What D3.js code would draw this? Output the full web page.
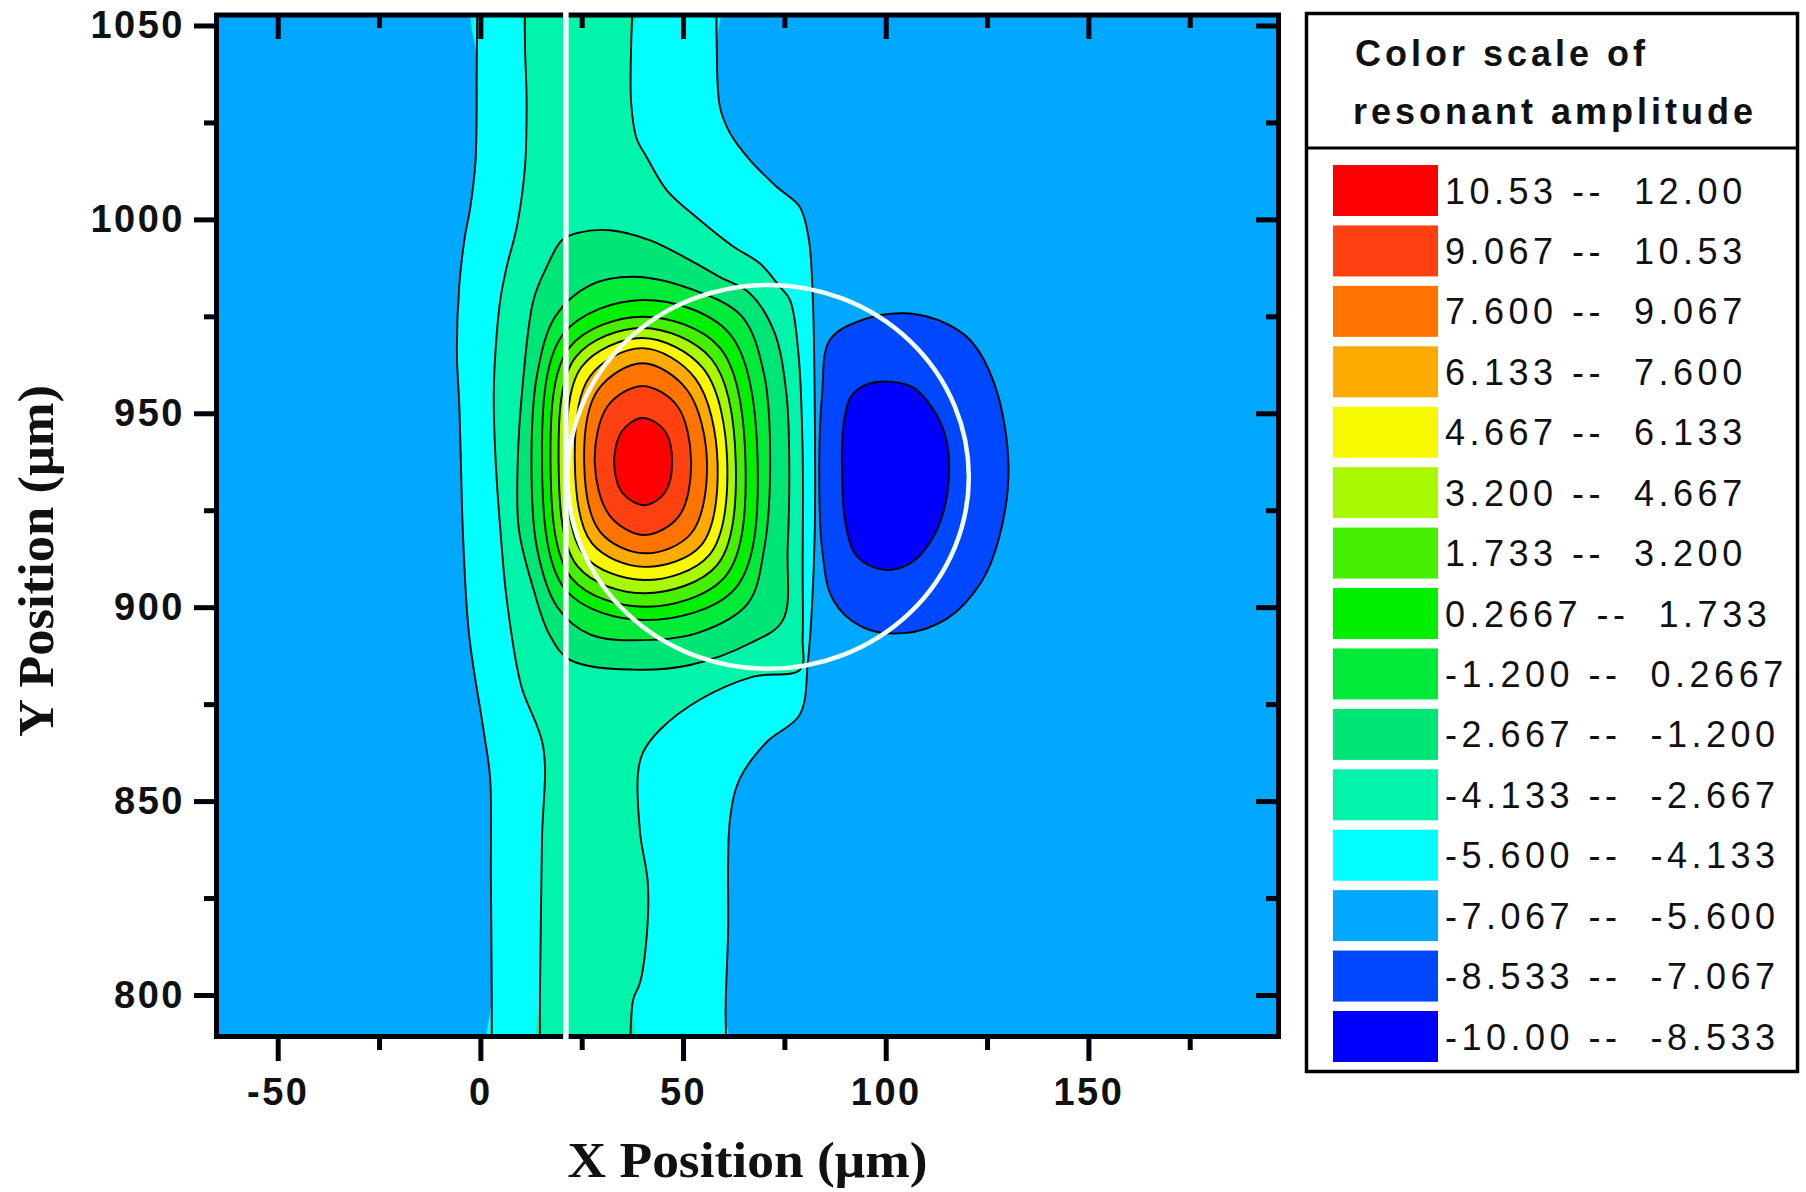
<!DOCTYPE html>
<html>
<head>
<meta charset="utf-8">
<script src="https://cdn.jsdelivr.net/npm/d3@7"></script>
<style>
  html, body { margin: 0; padding: 0; background: #fff; }
  svg { display: block; }
  .contour { fill: none; stroke: #040404; stroke-width: 1.9; }
</style>
</head>
<body>
<svg id="chart" width="1806" height="1192"></svg>
<script>
// contour levels and the colour of each band (low -> high)
const levels = [-10, -8.533, -7.067, -5.6, -4.133, -2.667, -1.2, 0.2667, 1.733, 3.2, 4.667, 6.133, 7.6, 9.067, 10.53, 12];
const levelText = ["-10.00", "-8.533", "-7.067", "-5.600", "-4.133", "-2.667", "-1.200", "0.2667",
                   "1.733", "3.200", "4.667", "6.133", "7.600", "9.067", "10.53", "12.00"];
const bandColors = ["#0000ff", "#0048ff", "#00a8ff", "#00ffff", "#00f5aa", "#00e676", "#00ea3a",
                    "#00f000", "#44f000", "#a8f800", "#f8f800", "#ffaa00", "#ff7400", "#ff4010", "#ff0000"];

const xTicks = [-50, 0, 50, 100, 150];
const xMinor = [-25, 25, 75, 125, 175];
const yTicks = [800, 850, 900, 950, 1000, 1050];
const yMinor = [825, 875, 925, 975, 1025];

// vertical ridge: boundaries of the -5.600 and -4.133 levels, [x um, y um], top to bottom
const cyanLeft = [[-0.8,1058],[-0.9,1040],[-1.2,1015],[-2.5,1003],[-3.9,995],[-5.2,983],[-5.8,966],[-5.2,952],
                  [-4.8,937],[-4.3,919],[-2.8,893],[0.9,867.5],[2.4,856],[2.6,830],[2.8,800],[2.8,782]];
const cyanRight = [[58.3,1058],[58.3,1045],[59.1,1029],[61.6,1022.2],[66.5,1015.3],[73.1,1008.4],[78.8,1003.2],
                   [81,995],[82,980],[82.5,950],[82.5,920],[81.8,900],[80.8,886],[78.8,872.3],[70.7,865.3],
                   [64,855.8],[61.6,845.5],[61.1,815.6],[60.5,795],[61,782]];
const aquaLeft = [[11,1058],[11,1045],[11.4,1030.7],[11,1013.5],[9,998.1],[6.5,987.8],[4.9,979.2],[3.5,962],
                  [3.3,953],[3.8,937],[5,919],[6.5,902],[10,880],[15.5,864],[15.2,840],[14.7,800],[14.7,782]];
const aquaRight = [[37.7,1058],[37.2,1045],[37.2,1030],[38.5,1021],[41,1016.1],[46,1007.5],[54.2,999.8],
                   [62.4,993],[69,988.6],[73.9,982.6],[76.4,979.2],[78.5,965],[79.5,940],[79.5,910],[79.5,892],
                   [78.9,883.9],[67.3,882.1],[54.2,876.2],[44.3,868.4],[40.1,862.5],[38.9,857.4],[39.4,841.9],
                   [41.3,829],[41.1,816.1],[39.4,803.2],[37.7,798.8],[37,782]];

// closed contours of the positive lobe, levels -2.667 ... 10.53
const peakLevels = [5, 6, 7, 8, 9, 10, 11, 12, 13, 14];
const peakRings = [
  [[32,997.2],[41.9,994.6],[51.7,989.5],[59.1,985.1],[66.5,980.9],[72.5,971],[75.5,955],[76.2,937],[75.8,915],
   [74.6,896.6],[66.5,890.7],[51.7,885.1],[37.6,883.9],[22.1,886.4],[17,893],[13,905],[9.5,920],[9.2,937],
   [10.5,958],[13.1,979.2],[16.4,987.8],[20.1,994.6],[24,996.5]],
  [[38,985.2],[52,982],[64.5,975],[70,960],[71.5,937.5],[70,915],[66,901],[54,893.5],[40,891.5],[27,893],
   [19,900],[14,915],[12.6,937.5],[14,960],[18.5,975],[27,983]],
  [[40,979.2],[61.5,970.5],[68.4,937.5],[63,905],[40.5,896.7],[21,904.5],[15.2,937.5],[20.5,970.5]],
  [[40,974.9],[59,967],[65.4,937.5],[60.5,908],[40.5,900.1],[22.5,907.5],[17.3,937.5],[22,967]],
  [[40,972],[57,964],[63,937.5],[58.5,911],[40.5,903.6],[24,910.5],[19.3,937.5],[23.5,964.5]],
  [[40,969.4],[55,961.5],[60.9,937.5],[56.5,913.5],[40.5,907],[25.5,913.5],[21.3,937.5],[25,962]],
  [[40,966.8],[53,959],[58.5,937.5],[54.5,916],[40.5,910.4],[27.5,916.5],[23.3,937.5],[27,959.5]],
  [[40,962.9],[51,956],[55.9,937.5],[52,919],[40.5,913.9],[29.5,919.5],[25.6,937.5],[29,956]],
  [[40,957],[48.5,952],[52,937.5],[49,923.5],[40.5,918.6],[32,923.5],[28.2,937.5],[31.5,952]],
  [[40,948.8],[45.5,945.5],[47.3,937.5],[45.5,929.5],[40.5,926.3],[35,929.5],[33,937.5],[35,945.5]]
];

// closed contours of the negative lobe, levels -7.067 and -8.533
const dipLevels = [1, 0];
const dipRings = [
  [[86.2,968.9],[94,974],[104.4,975.8],[113,974],[120.8,968.9],[127,957],[130.3,936.2],[128,918],[123.4,906.2],
   [115,897],[104.4,893.3],[94,895],[87,901.9],[84.3,915],[83.6,936],[84.3,955]],
  [[91.4,954.3],[95.5,957.5],[101.7,958.1],[107,956.5],[111.3,951.7],[114.5,945],[115.6,937.9],[114.8,927],
   [112.2,919],[107,912],[100.9,909.6],[95.5,911],[92.3,913.9],[90,922],[89.2,936.2],[89.6,947]]
];

// white overlays: slit edge and circular resonator outline (um)
const slitX = 21.1;
const ringCx = 71, ringCy = 933.6, ringR = 49.5;

const svg = d3.select("#chart");
const plotL = 216.5, plotR = 1278.5, plotT = 15, plotB = 1036.5;
const x = d3.scaleLinear().domain([-65.1, 196.9]).range([plotL, plotR]);
const y = d3.scaleLinear().domain([789.3, 1052.7]).range([plotB, plotT]);

svg.append("defs").append("clipPath").attr("id", "plotClip")
  .append("rect").attr("x", plotL).attr("y", plotT)
  .attr("width", plotR - plotL).attr("height", plotB - plotT);

const closedLine = d3.line().x(d => x(d[0])).y(d => y(d[1])).curve(d3.curveCatmullRomClosed.alpha(0.5));
const openLine = d3.line().x(d => x(d[0])).y(d => y(d[1])).curve(d3.curveCatmullRom.alpha(0.5));

const plot = svg.append("g").attr("clip-path", "url(#plotClip)");

// background band
plot.append("rect")
  .attr("x", plotL).attr("y", plotT)
  .attr("width", plotR - plotL).attr("height", plotB - plotT)
  .attr("fill", bandColors[2]);

// negative lobe
dipRings.forEach((r, i) => {
  plot.append("path").attr("d", closedLine(r)).attr("fill", bandColors[dipLevels[i]]);
});

// ridge bands
plot.append("path").attr("d", closedLine(cyanLeft.concat(cyanRight.slice().reverse()))).attr("fill", bandColors[3]);
plot.append("path").attr("d", closedLine(aquaLeft.concat(aquaRight.slice().reverse()))).attr("fill", bandColors[4]);

// positive lobe
peakRings.forEach((r, i) => {
  plot.append("path").attr("d", closedLine(r)).attr("fill", bandColors[peakLevels[i]]);
});

// contour lines
[cyanLeft, cyanRight, aquaLeft, aquaRight].forEach(c => {
  plot.append("path").attr("class", "contour").attr("d", openLine(c));
});
dipRings.concat(peakRings).forEach(r => {
  plot.append("path").attr("class", "contour").attr("d", closedLine(r));
});

// axes
const tickFont = g => {
  g.select(".domain").remove();
  g.selectAll(".tick line").attr("stroke", "#00000c").attr("stroke-width", 5);
  g.selectAll(".tick text")
    .attr("fill", "#111")
    .style("font-family", "'Liberation Sans', Arial, sans-serif")
    .style("font-weight", "bold")
    .style("font-size", "38px")
    .style("letter-spacing", "2.5px");
};

svg.append("g").attr("transform", "translate(214,0)")
  .call(d3.axisLeft(y).tickValues(yTicks).tickSize(20).tickPadding(9).tickFormat(d => String(d)))
  .call(tickFont);
svg.append("g").attr("transform", "translate(214,0)")
  .call(d3.axisLeft(y).tickValues(yMinor).tickSize(10).tickFormat(""))
  .call(tickFont);
svg.append("g").attr("transform", "translate(0,1039)")
  .call(d3.axisBottom(x).tickValues(xTicks).tickSize(22).tickPadding(17).tickFormat(d => String(d)))
  .call(tickFont);
svg.append("g").attr("transform", "translate(0,1039)")
  .call(d3.axisBottom(x).tickValues(xMinor).tickSize(11).tickFormat(""))
  .call(tickFont);
// inward mirror ticks on top and right
svg.append("g").attr("transform", "translate(0,17)")
  .call(d3.axisBottom(x).tickValues(xTicks).tickSize(22).tickFormat(""))
  .call(tickFont);
svg.append("g").attr("transform", "translate(0,17)")
  .call(d3.axisBottom(x).tickValues(xMinor).tickSize(11).tickFormat(""))
  .call(tickFont);
svg.append("g").attr("transform", "translate(1276,0)")
  .call(d3.axisLeft(y).tickValues(yTicks).tickSize(20).tickFormat(""))
  .call(tickFont);
svg.append("g").attr("transform", "translate(1276,0)")
  .call(d3.axisLeft(y).tickValues(yMinor).tickSize(10).tickFormat(""))
  .call(tickFont);

// frame
svg.append("rect")
  .attr("x", plotL).attr("y", plotT)
  .attr("width", plotR - plotL).attr("height", plotB - plotT)
  .attr("fill", "none").attr("stroke", "#00000c").attr("stroke-width", 5);

// white overlays
svg.append("line")
  .attr("x1", x(slitX)).attr("x2", x(slitX))
  .attr("y1", plotT - 3).attr("y2", plotB + 3)
  .attr("stroke", "#f4fffc").attr("stroke-width", 5.5);
svg.append("ellipse")
  .attr("cx", x(ringCx)).attr("cy", y(ringCy))
  .attr("rx", x(ringCx + ringR) - x(ringCx))
  .attr("ry", y(ringCy) - y(ringCy + ringR))
  .attr("fill", "none").attr("stroke", "#f2fff6").attr("stroke-width", 4.5);

// axis titles
svg.append("text")
  .attr("x", (plotL + plotR) / 2).attr("y", 1177)
  .attr("text-anchor", "middle")
  .attr("textLength", 360).attr("lengthAdjust", "spacingAndGlyphs")
  .style("font-family", "'Liberation Serif', 'Times New Roman', serif")
  .style("font-weight", "bold").style("font-size", "50px").attr("fill", "#111")
  .text("X Position (μm)");
svg.append("text")
  .attr("transform", "translate(53,561) rotate(-90)")
  .attr("text-anchor", "middle")
  .attr("textLength", 352).attr("lengthAdjust", "spacingAndGlyphs")
  .style("font-family", "'Liberation Serif', 'Times New Roman', serif")
  .style("font-weight", "bold").style("font-size", "51px").attr("fill", "#111")
  .text("Y Position (μm)");

// legend
const legend = svg.append("g");
legend.append("rect")
  .attr("x", 1306.5).attr("y", 13.5).attr("width", 491).attr("height", 1058)
  .attr("fill", "#fff").attr("stroke", "#000").attr("stroke-width", 3.5);
legend.append("line")
  .attr("x1", 1306.5).attr("x2", 1797.5).attr("y1", 148).attr("y2", 148)
  .attr("stroke", "#000").attr("stroke-width", 3);
[["Color scale of", 1355, 66], ["resonant amplitude", 1353, 124]].forEach(([t, tx, ty]) => {
  legend.append("text").attr("x", tx).attr("y", ty)
    .style("font-family", "'Liberation Sans', Arial, sans-serif")
    .style("font-weight", "bold").style("font-size", "36px").style("letter-spacing", "4px")
    .attr("fill", "#111").text(t);
});

const rows = d3.range(bandColors.length).reverse();
const rowY = d3.scaleLinear().domain([0, rows.length - 1]).range([165, 1011]);
const row = legend.selectAll("g.row").data(rows).join("g")
  .attr("class", "row")
  .attr("transform", (d, i) => `translate(0,${rowY(i)})`);
row.append("rect")
  .attr("x", 1333).attr("y", 0).attr("width", 105).attr("height", 51)
  .attr("fill", d => bandColors[d]);
row.append("text")
  .attr("x", 1445).attr("y", 38.5)
  .attr("xml:space", "preserve")
  .style("white-space", "pre")
  .style("font-family", "'Liberation Sans', Arial, sans-serif")
  .style("font-size", "36px").style("letter-spacing", "4.5px")
  .attr("fill", "#111")
  .text(d => `${levelText[d]} --  ${levelText[d + 1]}`);
</script>
</body>
</html>
